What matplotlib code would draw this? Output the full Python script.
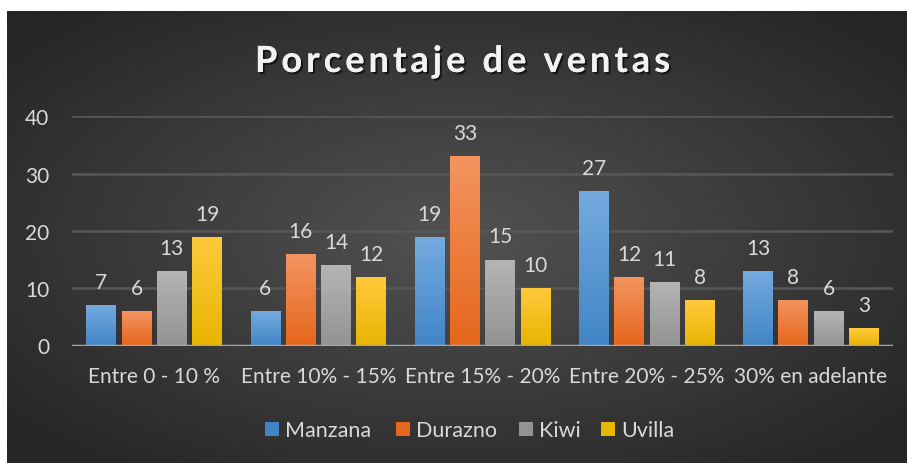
import numpy as np
import matplotlib
matplotlib.use("Agg")
import matplotlib.pyplot as plt
from matplotlib.colors import LinearSegmentedColormap
from matplotlib.patches import Rectangle
import matplotlib.patheffects as pe

categories = ["Entre 0 - 10 %", "Entre 10% - 15%", "Entre 15% - 20%", "Entre 20% - 25%", "30% en adelante"]
series_names = ["Manzana", "Durazno", "Kiwi", "Uvilla"]
manzana = [7, 6, 19, 27, 13]
durazno = [6, 16, 33, 12, 8]
kiwi = [13, 14, 15, 11, 6]
uvilla = [19, 12, 10, 8, 3]
y_ticks = [0, 10, 20, 30, 40]
title = "Porcentaje de ventas"

series = [manzana, durazno, kiwi, uvilla]
grad = [("#74aadf", "#4185c6"), ("#f49460", "#e5661c"), ("#b4b4b4", "#939393"), ("#ffc93d", "#e8b500")]

W, H = 907, 464
fig = plt.figure(figsize=(W / 100, H / 100), dpi=100, facecolor="white")
FONT = ["Lato", "DejaVu Sans"]
TXT = "#d9d9d9"
FS = 15

# background panel with radial gradient
bg = fig.add_axes([7 / W, 0, (W - 7) / W, (H - 12) / H])
bg.set_axis_off()
yy, xx = np.mgrid[-1:1:300j, -1:1:600j]
r = np.sqrt(xx ** 2 + yy ** 2)
r = np.clip(r / 1.3, 0, 1)
c_in, c_out = np.array([0x52, 0x52, 0x52]) / 255, np.array([0x26, 0x26, 0x26]) / 255
img = c_in[None, None, :] * (1 - r[..., None]) + c_out[None, None, :] * r[..., None]
bg.imshow(img, aspect="auto", extent=[0, 1, 0, 1])
bg.set_xlim(0, 1); bg.set_ylim(0, 1)

# plot axes
x0, x1 = 72, 893
y0px, y40px = 346.5, 117.3
ax = fig.add_axes([x0 / W, (H - y0px) / H, (x1 - x0) / W, (y0px - y40px) / H])
ax.patch.set_alpha(0)
for s in ax.spines.values():
    s.set_visible(False)
ax.set_yticks(y_ticks)
ax.set_yticklabels([str(t) for t in y_ticks], color=TXT, fontsize=FS, family=FONT)
ax.tick_params(axis="y", length=0, pad=16.5)
ax.set_xticks(range(len(categories)))
ax.set_xticklabels(categories, color=TXT, fontsize=FS, family=FONT)
ax.tick_params(axis="x", length=0, pad=15)
for t in y_ticks[1:]:
    ax.axhline(t, color="#575757", lw=1.8, zorder=0)

step, width = 0.215, 0.18
x = np.arange(len(categories))
for i, (vals, (ctop, cbot)) in enumerate(zip(series, grad)):
    cmap = LinearSegmentedColormap.from_list(f"g{i}", [cbot, ctop])
    pos = x + (i - 1.5) * step
    bars = ax.bar(pos, vals, width=width, color=ctop, zorder=2)
    for b, v in zip(bars, vals):
        bx, by = b.get_x(), b.get_y()
        bw, bh = b.get_width(), b.get_height()
        gimg = ax.imshow(np.linspace(0, 1, 100).reshape(-1, 1), cmap=cmap, origin="lower",
                         extent=[bx, bx + bw, by, by + bh], aspect="auto", zorder=3)
        gimg.set_clip_path(b)
        ax.annotate(str(v), (bx + bw / 2, v), xytext=(0, 12.3), textcoords="offset points",
                    ha="center", va="baseline", color=TXT, fontsize=FS, family=FONT, zorder=5)
ax.set_xlim(-0.5, len(categories) - 0.5)
ax.set_ylim(0, 40)
ax.axhline(0, color="#a6a6a6", lw=2.5, zorder=4)

# title with letter spacing, drawn char by char
renderer = fig.canvas.get_renderer()
tfs = 26
tprops = dict(color="#f2f2f2", fontsize=tfs, fontweight="bold", family=FONT,
              path_effects=[pe.withSimplePatchShadow(offset=(1.5, -1.5), shadow_rgbFace="black", alpha=0.6), pe.Normal()])
widths = []
for ch in title:
    if ch == " ":
        widths.append(tfs * 100 / 72 * 0.25)
    else:
        t = fig.text(0, 0, ch, **tprops)
        widths.append(t.get_window_extent(renderer).width)
        t.remove()
target_left, target_right = 255, 670
spacing = (target_right - target_left - sum(widths)) / (len(title) - 1)
cx = target_left
base_y = 1 - 73 / H
for ch, w in zip(title, widths):
    if ch != " ":
        fig.text(cx / W, base_y, ch, ha="left", va="baseline", **tprops)
    cx += w + spacing

# legend
items = [(265, 285), (396, 416), (519, 539), (601, 621)]
for (sx, tx), name, (ctop, cbot) in zip(items, series_names, grad):
    fig.patches.append(Rectangle((sx / W, 1 - 437 / H), 14 / W, 14 / H, transform=fig.transFigure,
                                 facecolor=cbot, edgecolor="none"))
    fig.text(tx / W, 1 - 437 / H, name, ha="left", va="baseline", color=TXT, fontsize=15.5, family=FONT)

fig.savefig("out.png", dpi=100, facecolor="white")
